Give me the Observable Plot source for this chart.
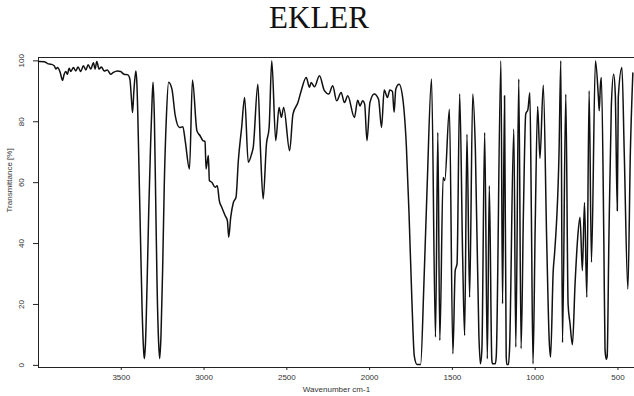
<!DOCTYPE html>
<html>
<head>
<meta charset="utf-8">
<script src="https://cdn.jsdelivr.net/npm/d3@7"></script>
<script src="https://cdn.jsdelivr.net/npm/@observablehq/plot@0.6"></script>
<style>
  html, body { margin: 0; padding: 0; background: #fff; }
  #wrap { position: relative; width: 634px; height: 396px; overflow: hidden; }
  #title { position: absolute; left: 0; width: 638px; top: 2px; text-align: center;
           font-family: "Liberation Serif", serif; font-size: 31px; line-height: 31px; color: #111; }
  #chart { position: absolute; left: 0; top: 0; }
</style>
</head>
<body>
<div id="wrap">
  <div id="chart"></div>
  <div id="title">EKLER</div>
</div>
<script>
const chartTitle = "EKLER";
const xLabel = "Wavenumber cm-1";
const yLabel = "Transmittance [%]";
const xTicks = [3500, 3000, 2500, 2000, 1500, 1000, 500];
const yTicks = [0, 20, 40, 60, 80, 100];

const wavenumber = [
  4000, 3995, 3965, 3945, 3925, 3905, 3895, 3885, 3869, 3855, 3845, 3835, 3825, 3815, 3805,
  3789, 3775, 3761, 3745, 3729, 3714, 3700, 3684, 3668, 3658, 3648, 3634, 3620, 3604, 3584,
  3564, 3548, 3524, 3504, 3484, 3460, 3448, 3438, 3432, 3424, 3412, 3406, 3400, 3394, 3384,
  3374, 3364, 3360, 3354, 3344, 3334, 3324, 3314, 3308, 3300, 3292, 3284, 3274, 3268, 3260,
  3250, 3240, 3228, 3214, 3194, 3174, 3148, 3128, 3114, 3088, 3070, 3043, 3024, 3007, 2994,
  2988, 2974, 2968, 2953, 2933, 2920, 2908, 2893, 2873, 2859, 2851, 2839, 2823, 2807, 2793,
  2773, 2755, 2733, 2713, 2703, 2675, 2659, 2643, 2623, 2607, 2591, 2567, 2547, 2533, 2519,
  2483, 2463, 2433, 2413, 2383, 2363, 2353, 2333, 2303, 2273, 2247, 2223, 2199, 2172, 2152,
  2132, 2092, 2072, 2058, 2042, 2030, 2016, 1998, 1972, 1946, 1928, 1912, 1892, 1878, 1862,
  1852, 1842, 1822, 1798, 1778, 1762, 1745, 1730, 1714, 1692, 1672, 1652, 1626, 1602, 1588,
  1576, 1556, 1546, 1518, 1497, 1483, 1472, 1456, 1438, 1426, 1412, 1396, 1377, 1361, 1340,
  1331, 1322, 1305, 1289, 1277, 1262, 1258, 1241, 1235, 1207, 1197, 1185, 1175, 1171, 1161,
  1155, 1129, 1117, 1099, 1085, 1071, 1057, 1044, 1032, 1023, 1013, 1000, 985, 971, 951,
  930, 915, 907, 891, 883, 856, 845, 835, 815, 801, 790, 775, 759, 743, 729,
  715, 702, 688, 674, 660, 636, 618, 613, 606, 600, 585, 578, 570, 565, 555,
  540, 526, 516, 504, 498, 476, 462, 440, 425, 410
];
const transmittance = [
  99.8, 99.8, 99.7, 99.1, 98.9, 98.4, 97.3, 97.8, 96.2, 93.6, 95.6, 96.5, 95.6, 97.6, 96.5,
  97.8, 96.7, 98.0, 96.5, 98.4, 97.0, 98.7, 97.3, 99.4, 97.3, 99.8, 97.3, 98.0, 96.7, 97.0,
  95.6, 96.2, 96.7, 96.5, 95.6, 95.4, 94.0, 87.0, 83.0, 90.0, 96.7, 93.0, 82.0, 67.0, 42.0,
  18.0, 4.0, 2.2, 7.0, 27.0, 51.0, 70.5, 87.0, 93.0, 81.0, 54.0, 27.0, 7.0, 2.2, 10.0,
  32.0, 60.0, 81.0, 93.0, 90.7, 82.0, 78.1, 78.4, 73.8, 64.5, 93.7, 77.0, 75.4, 73.8, 73.5,
  64.5, 68.9, 60.7, 60.1, 58.5, 59.0, 54.1, 51.9, 49.2, 47.5, 42.1, 48.6, 53.5, 55.2, 67.2,
  78.1, 88.0, 66.7, 69.4, 71.6, 92.3, 70.5, 54.6, 72.7, 78.1, 100.0, 73.8, 84.7, 81.4, 84.7,
  70.5, 82.5, 86.3, 90.2, 94.5, 91.3, 92.9, 91.5, 95.1, 90.2, 89.1, 91.8, 86.9, 89.6, 86.3,
  88.5, 81.4, 87.1, 85.2, 86.9, 85.8, 73.8, 86.3, 89.1, 87.4, 78.1, 90.4, 88.0, 90.4, 89.9,
  83.1, 90.7, 92.3, 86.9, 72.0, 50.0, 22.0, 3.0, 0.3, 0.3, 26.8, 59.6, 94.0, 9.3, 76.5,
  8.2, 61.7, 60.7, 84.1, 3.8, 31.1, 33.3, 89.1, 35.5, 9.8, 75.9, 22.4, 89.1, 70.5, 10.0,
  0.5, 5.0, 76.5, 2.2, 59.0, 2.0, 0.5, 0.5, 3.0, 100.0, 20.2, 88.5, 3.0, 0.3, 0.3,
  5.0, 77.6, 6.0, 94.0, 5.5, 50.0, 82.5, 84.0, 89.5, 50.0, 0.5, 45.0, 85.0, 68.0, 92.0,
  40.0, 8.0, 2.7, 31.0, 36.6, 69.4, 100.0, 7.5, 89.0, 20.0, 14.0, 6.8, 26.8, 42.0, 48.6,
  31.1, 53.5, 22.4, 90.2, 33.9, 100.0, 88.0, 83.6, 92.0, 94.5, 40.0, 5.0, 2.0, 3.0, 40.0,
  85.0, 95.6, 89.0, 50.8, 88.0, 97.8, 70.0, 25.1, 70.0, 96.0
];

const spectrum = wavenumber.map((w, i) => ({w, t: transmittance[i]}));
const font = "'Liberation Sans', Arial, sans-serif";

document.getElementById("title").textContent = chartTitle;

const chart = Plot.plot({
  width: 634,
  height: 396,
  marginLeft: 38,
  marginRight: 0,
  marginTop: 57,
  marginBottom: 29,
  style: {fontFamily: font, fontSize: "8px", color: "#333", background: "transparent"},
  x: {domain: [4000, 400], axis: null},
  y: {domain: [-0.7, 101.1], axis: null},
  marks: [
    Plot.axisX({ticks: xTicks, tickSize: 3, tickPadding: 4, tickFormat: d => String(d), label: null, fontSize: 8, stroke: "#222", fill: "#333"}),
    Plot.axisY({ticks: yTicks, tickSize: 5, tickFormat: () => "", label: null, stroke: "#222"}),
    Plot.text(yTicks, {y: d => d, text: d => String(d), frameAnchor: "left", dx: -17, rotate: -90, textAnchor: "middle", lineAnchor: "middle", fontSize: 8, fill: "#333"}),
    Plot.text([xLabel], {frameAnchor: "bottom", dy: 24, fontSize: 8, fill: "#333"}),
    Plot.text([yLabel], {frameAnchor: "left", dx: -29, rotate: -90, fontSize: 8, fill: "#333"}),
    Plot.ruleY([101.1], {stroke: "#222", strokeWidth: 1}),
    Plot.ruleY([-0.7], {stroke: "#222", strokeWidth: 1}),
    Plot.ruleX([4000], {stroke: "#222", strokeWidth: 1}),
    Plot.line(spectrum, {x: "w", y: "t", stroke: "#111", strokeWidth: 1.5, strokeLinejoin: "round", curve: "monotone-x"})
  ]
});
document.getElementById("chart").appendChild(chart);
</script>
</body>
</html>
